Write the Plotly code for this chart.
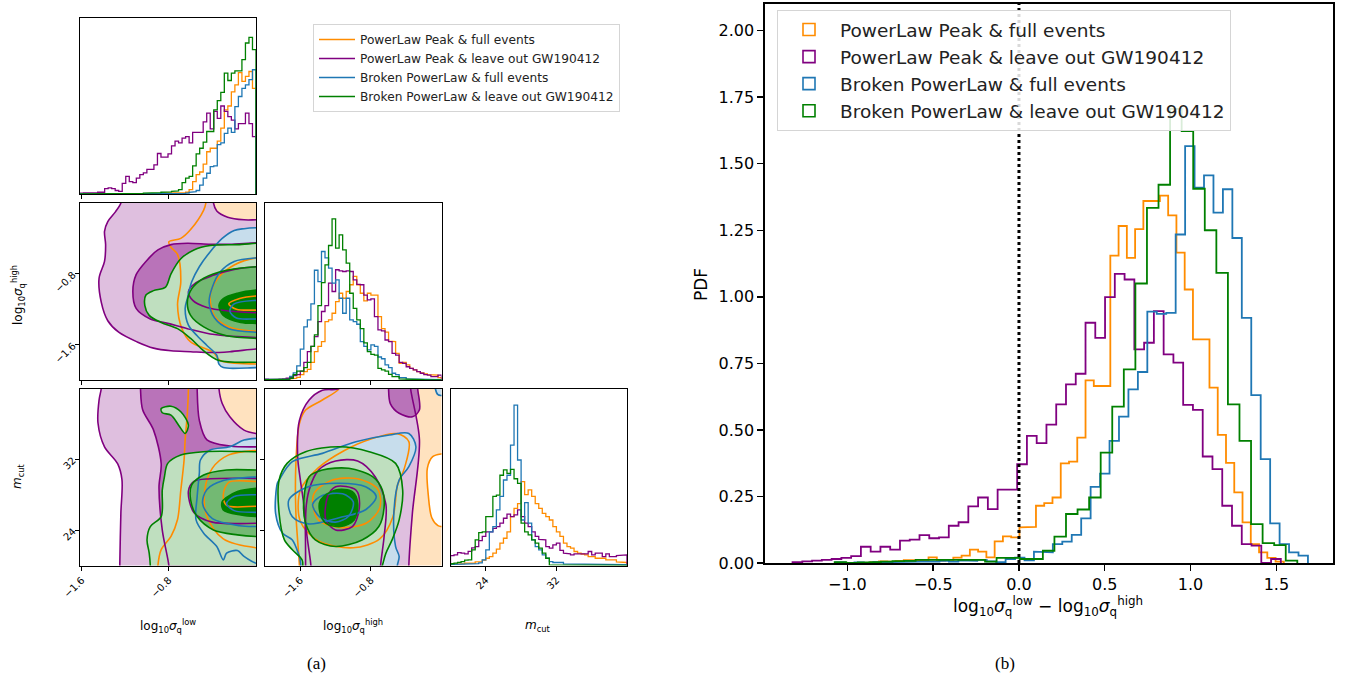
import plotly.graph_objects as go

W, H = 1345, 681

NAMES = ["PowerLaw Peak & full events", "PowerLaw Peak & leave out GW190412",
         "Broken PowerLaw & full events", "Broken PowerLaw & leave out GW190412"]
COLORS = ["#ff8c00", "#800080", "#1f77b4", "#008000"]

# ---------------- panel (b): log10 sigma_low - log10 sigma_high ----------------
DIFF_START = [-0.864, -1.3195, -1.069, -1.074]
DIFF_WIDTH = [0.04815, 0.05691, 0.05506, 0.0674]
diff_orange = [0.002, 0.006, 0.005, 0.008, 0.011, 0.011, 0.01, 0.021, 0.009, 0.012,
               0.02, 0.0275, 0.05, 0.0425, 0.021, 0.081, 0.1, 0.096, 0.134, 0.136,
               0.215, 0.225, 0.246, 0.374, 0.381, 0.471, 0.686, 0.665, 0.665, 1.155,
               1.266, 1.146, 1.254, 1.36, 1.36, 1.38, 1.306, 1.166, 1.0275, 0.84,
               0.84, 0.659, 0.481, 0.376, 0.265, 0.1525, 0.071, 0.04, 0.019, 0.005]
diff_purple = [0.003, 0.006, 0.009, 0.012, 0.015, 0.019, 0.026, 0.061, 0.043, 0.061,
               0.05, 0.084, 0.088, 0.105, 0.093, 0.096, 0.14, 0.153, 0.2125, 0.246,
               0.2025, 0.276, 0.276, 0.371, 0.4775, 0.45, 0.52, 0.596, 0.671, 0.711,
               0.9025, 0.846, 0.999, 1.086, 1.065, 0.8025, 0.8275, 0.946, 0.784, 0.7525,
               0.594, 0.575, 0.40, 0.3525, 0.215, 0.14, 0.071, 0.065, 0.0, 0.015]
diff_blue = [0.002, 0.0, 0.002, 0.0, 0.003, 0.003, 0.004, 0.005, 0.005, 0.006,
             0.005, 0.008, 0.005, 0.01, 0.008, 0.012, 0.006, 0.003, 0.015, 0.02,
             0.01, 0.0425, 0.04, 0.071, 0.08, 0.106, 0.1675, 0.286, 0.336, 0.459,
             0.55, 0.6525, 0.7175, 0.944, 0.936, 0.94, 1.234, 1.566, 1.41, 1.456,
             1.316, 1.404, 1.221, 0.921, 0.631, 0.39, 0.149, 0.071, 0.04, 0.0275]
diff_green = [0.003, 0.0, 0.002, 0.003, 0.005, 0.007, 0.008, 0.012, 0.012, 0.01,
              0.012, 0.01, 0.012, 0.005, 0.019, 0.019, 0.015, 0.015, 0.046, 0.099,
              0.184, 0.201, 0.246, 0.415, 0.5875, 0.7275, 1.05, 1.334, 1.421, 1.706,
              1.6225, 1.406, 1.25, 1.09, 0.596, 0.459, 0.146, 0.075, 0.0675, 0.009]
DIFF_RANGE = [-1.48, 1.83]
PDF_RANGE = [0.0, 2.1]
DIFF_TICKS = [-1.0, -0.5, 0.0, 0.5, 1.0, 1.5]
DIFF_TICK_TEXT = ["−1.0", "−0.5", "0.0", "0.5", "1.0", "1.5"]
PDF_TICKS = [0.0, 0.25, 0.5, 0.75, 1.0, 1.25, 1.5, 1.75, 2.0]
PDF_TICK_TEXT = ["0.00", "0.25", "0.50", "0.75", "1.00", "1.25", "1.50", "1.75", "2.00"]

# ---------------- panel (a): corner plot 1-D histograms (relative heights) ----------------
LOW_RANGE = [-1.615, 0.0]
HIGH_RANGE = [-2.0, 0.0]
MCUT_RANGE = [20.0, 40.0]
N_BINS = 50
low_orange = [0, 0, 0, 0, 0, 0, 0, 0, 0, 0, 0, 0, 0, 0, 0, 0, 0, 0, 0, 0,
              0.003, 0.003, 0.004, 0.004, 0.005, 0.006, 0.006, 0.007, 0.008, 0.008,
              0.01, 0.025, 0.07, 0.11, 0.125, 0.17, 0.24, 0.26, 0.26, 0.30,
              0.374, 0.478, 0.5, 0.58, 0.62, 0.69, 0.64, 0.668, 0.696, 0.6]
low_purple = [0.005, 0.006, 0.006, 0.005, 0.006, 0.01, 0.01, 0.03, 0.035, 0.03,
              0.02, 0.015, 0.06, 0.1, 0.07, 0.065, 0.09, 0.11, 0.12, 0.14,
              0.14, 0.165, 0.23, 0.21, 0.21, 0.228, 0.273, 0.30, 0.29, 0.317,
              0.326, 0.29, 0.35, 0.35, 0.35, 0.41, 0.46, 0.37, 0.47, 0.43,
              0.5, 0.47, 0.44, 0.42, 0.37, 0.40, 0.40, 0.46, 0.40, 0.326]
low_blue = [0, 0, 0, 0, 0, 0, 0, 0, 0, 0, 0, 0, 0, 0, 0, 0, 0, 0, 0, 0,
            0, 0, 0, 0, 0, 0.002, 0.002, 0.003, 0.003, 0.004,
            0.005, 0.01, 0.013, 0.02, 0.05, 0.09, 0.118, 0.155, 0.16, 0.28,
            0.29, 0.345, 0.374, 0.35, 0.497, 0.554, 0.60, 0.62, 0.65, 0.706]
low_green = [0, 0, 0, 0, 0, 0, 0, 0, 0, 0, 0, 0.003, 0.004, 0.004, 0.004, 0.004, 0.004, 0.004,
             0.005, 0.005, 0.006, 0.008, 0.008, 0.01, 0.01, 0.012, 0.015, 0.018,
             0.025, 0.065, 0.09, 0.1, 0.16, 0.228, 0.26, 0.295, 0.355, 0.355,
             0.478, 0.53, 0.577, 0.687, 0.645, 0.687, 0.70, 0.70, 0.763, 0.858, 0.89, 0.82]

high_orange = [0.001, 0.001, 0.002, 0.002, 0.003, 0.003, 0.004, 0.006, 0.01, 0.015,
               0.03, 0.047, 0.06, 0.1, 0.16, 0.19, 0.217, 0.33, 0.34, 0.377,
               0.443, 0.49, 0.462, 0.5, 0.538, 0.585, 0.538, 0.49, 0.447, 0.49,
               0.48, 0.48, 0.358, 0.29, 0.27, 0.22, 0.217, 0.15, 0.094, 0.1,
               0.085, 0.066, 0.057, 0.047, 0.04, 0.035, 0.03, 0.028, 0.028, 0.013]
high_purple = [0.005, 0.004, 0.003, 0.004, 0.005, 0.006, 0.01, 0.015, 0.025, 0.03,
               0.05, 0.1, 0.16, 0.19, 0.245, 0.33, 0.387, 0.42, 0.547, 0.5,
               0.623, 0.617, 0.613, 0.617, 0.613, 0.566, 0.54, 0.538, 0.48, 0.453,
               0.458, 0.358, 0.283, 0.277, 0.226, 0.217, 0.15, 0.14, 0.10, 0.094,
               0.075, 0.066, 0.057, 0.047, 0.038, 0.03, 0.028, 0.019, 0.019, 0.028]
high_blue = [0.003, 0.003, 0.003, 0.003, 0.003, 0.003, 0.003, 0.02, 0.04, 0.08,
             0.175, 0.30, 0.34, 0.43, 0.62, 0.556, 0.726, 0.69, 0.632, 0.547,
             0.566, 0.462, 0.377, 0.462, 0.34, 0.33, 0.315, 0.217, 0.19, 0.17,
             0.198, 0.19, 0.13, 0.12, 0.085, 0.07, 0.038, 0.03, 0.013, 0.013,
             0.006, 0.005, 0.005, 0.004, 0.004, 0.003, 0.003, 0.002, 0.002, 0.002]
high_green = [0.002, 0.002, 0.003, 0.003, 0.004, 0.004, 0.005, 0.01, 0.03, 0.05,
              0.05, 0.07, 0.10, 0.19, 0.255, 0.42, 0.55, 0.65, 0.76, 0.91,
              0.745, 0.82, 0.735, 0.66, 0.49, 0.405, 0.34, 0.29, 0.21, 0.16,
              0.145, 0.14, 0.066, 0.057, 0.05, 0.032, 0.019, 0.019, 0.006, 0.004,
              0.003, 0.003, 0.002, 0.002, 0.002, 0.001, 0.001, 0.001, 0.001, 0.001]

mcut_orange = [0.006, 0.008, 0.008, 0.01, 0.013, 0.013, 0.013, 0.02, 0.022, 0.03,
               0.041, 0.05, 0.07, 0.092, 0.126, 0.154, 0.19, 0.276, 0.323, 0.35,
               0.474, 0.4, 0.427, 0.39, 0.35, 0.323, 0.295, 0.276, 0.257, 0.22,
               0.19, 0.164, 0.126, 0.107, 0.098, 0.079, 0.07, 0.065, 0.06, 0.05,
               0.05, 0.041, 0.041, 0.041, 0.032, 0.032, 0.032, 0.02, 0.017, 0.017]
mcut_purple = [0.056, 0.06, 0.073, 0.07, 0.066, 0.08, 0.1, 0.107, 0.14, 0.164,
               0.19, 0.19, 0.21, 0.22, 0.239, 0.267, 0.29, 0.276, 0.286, 0.314,
               0.276, 0.239, 0.22, 0.19, 0.164, 0.148, 0.145, 0.107, 0.098, 0.117,
               0.126, 0.085, 0.07, 0.066, 0.06, 0.066, 0.066, 0.066, 0.066, 0.079,
               0.06, 0.07, 0.07, 0.05, 0.066, 0.05, 0.05, 0.056, 0.056, 0.06]
mcut_blue = [0.006, 0.006, 0.006, 0.006, 0.006, 0.006, 0.008, 0.01, 0.015, 0.032,
             0.088, 0.19, 0.22, 0.314, 0.39, 0.483, 0.51, 0.68, 0.906, 0.596,
             0.257, 0.355, 0.239, 0.145, 0.107, 0.088, 0.06, 0.041, 0.022, 0.017,
             0.017, 0.017, 0.009, 0.009, 0.009, 0.009, 0.005, 0.005, 0.005, 0.005,
             0.005, 0.005, 0.005, 0.005, 0.005, 0.005, 0.005, 0.005, 0.005, 0.005]
mcut_green = [0.01, 0.013, 0.018, 0.022, 0.03, 0.032, 0.088, 0.145, 0.186, 0.19,
              0.276, 0.276, 0.39, 0.398, 0.51, 0.54, 0.52, 0.543, 0.49, 0.464,
              0.239, 0.19, 0.173, 0.145, 0.126, 0.098, 0.07, 0.041, 0.004, 0.003,
              0.003, 0.002, 0.002, 0.002, 0.002, 0.002, 0.001, 0.001, 0.001, 0.001,
              0.001, 0.001, 0.001, 0.001, 0.001, 0.001, 0.001, 0.001, 0.001, 0.001]

SIGMA_TICKS = [-1.6, -0.8]
SIGMA_TICK_TEXT = ["−1.6", "−0.8"]
MCUT_TICKS = [24, 32]
MCUT_TICK_TEXT = ["24", "32"]

# ---------------- panel (a): 2-D credible contours (level 0 = outer, 1 = middle, 2 = inner, -1 = hole) ----------------
# sigma_low (x) vs sigma_high (y)
A_orange = [
    (0, [(-0.46, 0.05), (-0.46, 0), (-0.48, -0.08), (-0.6, -0.3), (-0.69, -0.4), (-0.8, -0.44), (-0.78, -0.5),
         (-0.72, -0.58), (-0.69, -0.89), (-0.72, -1.15), (-0.68, -1.42), (-0.6, -1.57), (-0.39, -1.69),
         (-0.33, -1.78), (0, -1.82), (0.1, -1.82), (0.1, 0.05)]),
    (1, [(0.1, -0.62), (0, -0.62), (-0.2, -0.7), (-0.35, -0.85), (-0.42, -1.05), (-0.38, -1.28), (-0.25, -1.4),
         (0, -1.45), (0.1, -1.45)]),
    (2, [(0.1, -1.05), (0, -1.05), (-0.15, -1.08), (-0.25, -1.14), (-0.18, -1.2), (0, -1.21), (0.1, -1.21)]),
]
A_purple = [
    (0, [(-1.24, 0.05), (-1.24, 0), (-1.29, -0.1), (-1.36, -0.21), (-1.39, -0.32), (-1.38, -0.47), (-1.39, -0.66),
         (-1.44, -0.85), (-1.42, -1.12), (-1.36, -1.33), (-1.26, -1.46), (-1.09, -1.57), (-0.94, -1.64),
         (-0.78, -1.67), (-0.6, -1.68), (-0.42, -1.69), (-0.24, -1.68), (0, -1.65), (0.1, -1.65), (0.1, -0.19),
         (0, -0.19), (-0.11, -0.19), (-0.26, -0.16), (-0.36, -0.09), (-0.39, 0), (-0.39, 0.05)]),
    (1, [(0.1, -0.45), (0, -0.45), (-0.24, -0.466), (-0.42, -0.466), (-0.63, -0.455), (-0.78, -0.47), (-0.9, -0.53),
         (-1.01, -0.66), (-1.1, -0.81), (-1.13, -1.0), (-1.1, -1.19), (-0.97, -1.31), (-0.81, -1.36),
         (-0.63, -1.42), (-0.42, -1.48), (-0.17, -1.51), (0, -1.52), (0.1, -1.52)]),
    (2, [(0.1, -0.72), (0, -0.72), (-0.2, -0.75), (-0.4, -0.82), (-0.55, -0.9), (-0.62, -1.0), (-0.58, -1.1),
         (-0.45, -1.18), (-0.25, -1.22), (0, -1.24), (0.1, -1.24)]),
]
A_blue = [
    (0, [(0.1, -0.28), (0, -0.28), (-0.11, -0.29), (-0.2, -0.31), (-0.31, -0.4), (-0.42, -0.55), (-0.52, -0.72),
         (-0.59, -0.89), (-0.63, -1.08), (-0.65, -1.19), (-0.62, -1.38), (-0.54, -1.5), (-0.45, -1.61),
         (-0.36, -1.72), (-0.34, -1.82), (-0.3, -1.86), (0, -1.86), (0.1, -1.86)]),
    (1, [(0.1, -0.62), (0, -0.62), (-0.2, -0.66), (-0.33, -0.78), (-0.4, -0.95), (-0.43, -1.12), (-0.38, -1.3),
         (-0.25, -1.42), (0, -1.46), (0.1, -1.46)]),
    (2, [(0.1, -1.1), (0, -1.1), (-0.2, -1.14), (-0.24, -1.22), (-0.18, -1.3), (0, -1.31), (0.1, -1.31)]),
]
A_green = [
    (0, [(0.1, -0.45), (0, -0.455), (-0.17, -0.47), (-0.42, -0.48), (-0.57, -0.53), (-0.69, -0.63), (-0.78, -0.8),
         (-0.83, -0.95), (-0.94, -0.99), (-1.01, -1.04), (-1.02, -1.16), (-0.98, -1.27), (-0.87, -1.35),
         (-0.72, -1.42), (-0.6, -1.53), (-0.48, -1.67), (-0.34, -1.78), (0, -1.8), (0.1, -1.8)]),
    (1, [(0.1, -0.72), (0, -0.72), (-0.27, -0.76), (-0.48, -0.85), (-0.59, -0.97), (-0.63, -1.12), (-0.6, -1.27),
         (-0.48, -1.4), (-0.27, -1.5), (0, -1.53), (0.1, -1.53)]),
    (2, [(0.1, -0.98), (0, -0.985), (-0.17, -1.02), (-0.3, -1.08), (-0.34, -1.16), (-0.3, -1.27), (-0.14, -1.35),
         (0, -1.36), (0.1, -1.36)]),
]
# sigma_low (x) vs m_cut (y)
B_orange = [
    (0, [(-0.62, 41), (-0.62, 40), (-0.63, 37.2), (-0.65, 34.2), (-0.66, 31.9), (-0.69, 28.5), (-0.72, 25.2),
         (-0.78, 23.3), (-0.87, 21.8), (-0.9, 20), (-0.9, 19), (0.1, 19), (0.1, 41)]),
    (1, [(0.1, 33.0), (0, 33.0), (-0.25, 32.5), (-0.4, 31.0), (-0.47, 28.5), (-0.45, 25.5), (-0.3, 23.0),
         (0, 22.0), (0.1, 22.0)]),
    (2, [(0.1, 29.5), (0, 29.5), (-0.25, 29.4), (-0.3, 28.0), (-0.27, 26.8), (0, 26.7), (0.1, 26.7)]),
]
B_purple = [
    (0, [(-1.42, 41), (-1.42, 40), (-1.44, 38.7), (-1.45, 36.1), (-1.39, 33.4), (-1.27, 31.5), (-1.23, 29.7),
         (-1.24, 25.9), (-1.25, 20), (-1.25, 19), (0.1, 19), (0.1, 34.9), (0, 34.92), (-0.11, 35.3),
         (-0.24, 36.8), (-0.31, 38.3), (-0.34, 40), (-0.34, 41)]),
    (1, [(-1.06, 41), (-1.06, 40), (-1.04, 37.6), (-0.94, 35.3), (-0.87, 31.5), (-0.89, 28.9), (-0.86, 24.0),
         (-0.8, 20), (-0.8, 19), (0.1, 19), (0.1, 33.4), (0, 33.4), (-0.24, 33.5), (-0.45, 34.2),
         (-0.52, 36.4), (-0.54, 40), (-0.54, 41)]),
    (2, [(0.1, 29.85), (0, 29.85), (-0.42, 29.8), (-0.57, 29.5), (-0.62, 28.4), (-0.57, 26.0), (-0.4, 24.9),
         (0, 24.77), (0.1, 24.77)]),
]
B_blue = [
    (0, [(0.1, 34.36), (0, 34.36), (-0.11, 34.17), (-0.24, 33.42), (-0.42, 33.05), (-0.51, 31.92), (-0.52, 30.41),
         (-0.54, 27.78), (-0.55, 25.15), (-0.48, 23.65), (-0.36, 22.14), (-0.3, 20.64), (-0.27, 21.39),
         (-0.17, 21.69), (-0.11, 21.02), (0, 20.26), (0.1, 20.26)]),
    (1, [(0.1, 30.0), (0, 30.0), (-0.3, 29.6), (-0.45, 28.6), (-0.49, 27.0), (-0.4, 25.3), (-0.15, 24.5),
         (0, 24.4), (0.1, 24.4)]),
    (2, [(0.1, 28.0), (0, 28.0), (-0.2, 27.8), (-0.27, 27.0), (-0.2, 26.2), (0, 26.0), (0.1, 26.0)]),
]
B_green = [
    (0, [(0.1, 32.86), (0, 32.86), (-0.48, 32.86), (-0.69, 32.48), (-0.81, 31.54), (-0.84, 30.04), (-0.86, 28.53),
         (-0.87, 25.53), (-0.97, 24.4), (-1.0, 22.9), (-0.98, 21.4), (-0.97, 20), (-0.97, 19), (0.1, 19)]),
    (0, [(-0.87, 37.74), (-0.78, 38.0), (-0.69, 37.37), (-0.62, 35.86), (-0.65, 34.92), (-0.71, 35.86),
         (-0.78, 36.99), (-0.86, 37.26)]),
    (1, [(0.1, 30.79), (0, 30.79), (-0.27, 30.79), (-0.48, 30.23), (-0.59, 29.1), (-0.6, 27.41), (-0.54, 25.53),
         (-0.39, 24.02), (-0.17, 23.46), (0, 23.27), (0.1, 23.27)]),
    (2, [(0.1, 28.72), (0, 28.72), (-0.17, 28.35), (-0.31, 27.22), (-0.3, 26.28), (-0.14, 25.71), (0, 25.53),
         (0.1, 25.53)]),
]
# sigma_high (x) vs m_cut (y)
C_orange = [
    (0, [(-1.16, 41), (-1.16, 40), (-1.35, 38.7), (-1.54, 37.56), (-1.61, 36.05), (-1.65, 31.54), (-1.65, 25.9),
         (-1.61, 20), (-1.61, 19), (0.1, 19), (0.1, 41)]),
    (-1, [(0.1, 32.6), (0, 32.6), (-0.1, 32.3), (-0.16, 31.0), (-0.15, 28.0), (-0.11, 25.4), (-0.04, 24.5),
          (0, 24.4), (0.1, 24.4)]),
    (1, [(-1.6, 28.5), (-1.4, 31.0), (-1.1, 33.0), (-0.8, 34.3), (-0.5, 34.9), (-0.37, 34.0), (-0.42, 31.0),
         (-0.5, 29.0), (-0.55, 25.5), (-0.7, 23.0), (-1.0, 22.0), (-1.4, 22.8), (-1.6, 25.0)]),
    (2, [(-1.45, 28.0), (-1.25, 29.6), (-0.95, 29.8), (-0.72, 28.6), (-0.7, 26.5), (-0.85, 24.8), (-1.15, 24.3),
         (-1.4, 25.2)]),
]
C_purple = [
    (0, [(-1.16, 41), (-1.16, 40), (-1.35, 39.8), (-1.5, 38.7), (-1.61, 36.4), (-1.63, 32.3), (-1.6, 29.7),
         (-1.55, 25.9), (-1.54, 20), (-1.54, 19), (-0.37, 19), (-0.37, 20), (-0.33, 25.9), (-0.25, 34.2),
         (-0.35, 40), (-0.35, 41)]),
    (1, [(-0.6, 41), (-0.6, 40), (-0.58, 38.3), (-0.48, 37.2), (-0.33, 36.8), (-0.25, 37.6), (-0.27, 40),
         (-0.27, 41)]),
    (1, [(-1.39, 30.8), (-1.2, 31.8), (-0.95, 31.8), (-0.75, 30.0), (-0.63, 26.9), (-0.65, 23.3), (-0.69, 20),
         (-0.69, 19), (-1.48, 19), (-1.48, 20), (-1.54, 25.15), (-1.5, 28.53)]),
    (2, [(-1.2, 28.91), (-0.97, 28.53), (-0.93, 26.65), (-1.01, 24.4), (-1.2, 24.02), (-1.31, 25.15),
         (-1.29, 27.78)]),
]
C_blue = [
    (0, [(-1.84, 29.66), (-1.69, 31.73), (-1.35, 32.67), (-0.97, 33.98), (-0.59, 34.74), (-0.37, 34.92),
         (-0.29, 33.42), (-0.37, 31.17), (-0.48, 29.66), (-0.54, 25.9), (-0.52, 22.14), (-0.48, 21.02),
         (-0.5, 20), (-0.5, 19), (-1.55, 19), (-1.61, 21.02), (-1.69, 22.89), (-1.8, 23.65), (-1.88, 25.9),
         (-1.86, 29.29)]),
    (0, [(-0.07, 41), (-0.07, 40), (-0.04, 39.3), (0, 39.2), (0.1, 39.2), (0.1, 41)]),
    (1, [(-1.73, 27.4), (-1.51, 28.9), (-1.16, 29.3), (-0.86, 28.9), (-0.74, 27.8), (-0.86, 26.3), (-1.16, 25.4),
         (-1.51, 24.7), (-1.69, 25.5)]),
    (2, [(-1.46, 26.9), (-1.35, 27.9), (-1.12, 28.1), (-1.0, 27.2), (-1.05, 25.6), (-1.2, 24.9), (-1.38, 25.5)]),
]
C_green = [
    (0, [(-1.75, 31.54), (-1.54, 32.86), (-1.16, 33.42), (-0.82, 32.86), (-0.52, 31.54), (-0.44, 28.53),
         (-0.48, 25.15), (-0.56, 22.89), (-0.63, 21.39), (-0.67, 20), (-0.7, 19), (-1.55, 19), (-1.58, 20.64),
         (-1.69, 21.77), (-1.78, 22.89), (-1.84, 25.9), (-1.84, 29.66)]),
    (1, [(-1.5, 30.04), (-1.35, 30.79), (-1.05, 30.98), (-0.78, 30.04), (-0.67, 28.53), (-0.65, 26.65),
         (-0.71, 24.4), (-0.9, 22.89), (-1.2, 22.14), (-1.43, 22.89), (-1.54, 24.77), (-1.56, 27.41)]),
    (2, [(-1.37, 27.41), (-1.2, 28.53), (-1.01, 28.35), (-0.95, 27.03), (-0.99, 25.15), (-1.14, 24.4),
         (-1.31, 24.77), (-1.38, 26.09)]),
]

# ============================ helpers ============================
FONT = "DejaVu Sans"


def edges_from(start, width, n):
    return [start + i * width for i in range(n + 1)]


def step_path(edges, vals):
    xs, ys = [edges[0]], [0.0]
    for i, v in enumerate(vals):
        xs += [edges[i], edges[i + 1]]
        ys += [v, v]
    xs.append(edges[-1])
    ys.append(0.0)
    return xs, ys


def blend(hexc, a):
    r, g, b = int(hexc[1:3], 16), int(hexc[3:5], 16), int(hexc[5:7], 16)
    return "rgb(%d,%d,%d)" % (round(255 - (255 - r) * a), round(255 - (255 - g) * a), round(255 - (255 - b) * a))


def xdom(a, b):
    return [a / W, b / W]


def ydom(top, bottom):
    return [1 - bottom / H, 1 - top / H]


fig = go.Figure()

# ---------------- panel (b) ----------------
diff_vals = [diff_orange, diff_purple, diff_blue, diff_green]
for i in range(4):
    e = edges_from(DIFF_START[i], DIFF_WIDTH[i], len(diff_vals[i]))
    xs, ys = step_path(e, diff_vals[i])
    fig.add_trace(go.Scatter(x=xs, y=ys, mode="lines", line=dict(color=COLORS[i], width=1.8),
                             xaxis="x", yaxis="y", showlegend=False, hoverinfo="skip"))
for i in range(4):
    fig.add_trace(go.Bar(x=[None], y=[None], name=NAMES[i], xaxis="x", yaxis="y",
                         marker=dict(color="rgba(0,0,0,0)", line=dict(color=COLORS[i], width=1.6)),
                         legend="legend2", legendgroup="g%d" % i, showlegend=True))
fig.add_shape(type="line", x0=0, x1=0, y0=PDF_RANGE[0], y1=PDF_RANGE[1], xref="x", yref="y",
              line=dict(color="black", width=3, dash="dot"))

# ---------------- panel (a) histograms ----------------
hist_sets = [
    ("x2", "y2", LOW_RANGE, [low_orange, low_purple, low_blue, low_green]),
    ("x4", "y4", HIGH_RANGE, [high_orange, high_purple, high_blue, high_green]),
    ("x7", "y7", MCUT_RANGE, [mcut_orange, mcut_purple, mcut_blue, mcut_green]),
]
for k, (xa, ya, rng, vals) in enumerate(hist_sets):
    e = edges_from(rng[0], (rng[1] - rng[0]) / N_BINS, N_BINS)
    for i in range(4):
        xs, ys = step_path(e, vals[i])
        fig.add_trace(go.Scatter(x=xs, y=ys, mode="lines", line=dict(color=COLORS[i], width=1.3),
                                 xaxis=xa, yaxis=ya, name=NAMES[i], legend="legend",
                                 showlegend=(k == 0), hoverinfo="skip"))

# ---------------- panel (a) contours ----------------
LEVEL_SHADE = {-1: 0.0, 0: 0.25, 1: 0.55, 2: 0.85}
contour_sets = [
    ("x3", "y3", [A_orange, A_purple, A_blue, A_green]),
    ("x5", "y5", [B_orange, B_purple, B_blue, B_green]),
    ("x6", "y6", [C_orange, C_purple, C_blue, C_green]),
]
for xa, ya, series in contour_sets:
    for i, polys in enumerate(series):
        for lvl, poly in polys:
            shade = 1.0 if (lvl == 2 and i == 3) else LEVEL_SHADE[lvl]
            xs = [p[0] for p in poly] + [poly[0][0]]
            ys = [p[1] for p in poly] + [poly[0][1]]
            fig.add_trace(go.Scatter(x=xs, y=ys, mode="lines", fill="toself",
                                     fillcolor=blend(COLORS[i], shade),
                                     line=dict(width=0, shape="spline", smoothing=0.9, color=COLORS[i]),
                                     xaxis=xa, yaxis=ya, showlegend=False, hoverinfo="skip"))
    for i, polys in enumerate(series):
        for lvl, poly in polys:
            xs = [p[0] for p in poly] + [poly[0][0]]
            ys = [p[1] for p in poly] + [poly[0][1]]
            fig.add_trace(go.Scatter(x=xs, y=ys, mode="lines",
                                     line=dict(width=1.6, shape="spline", smoothing=0.9, color=COLORS[i]),
                                     xaxis=xa, yaxis=ya, showlegend=False, hoverinfo="skip"))

# ---------------- axes ----------------
def corner_axis(dom, anchor, rng, tickvals=None, ticktext=None, labels=False, ticks=True):
    d = dict(domain=dom, anchor=anchor, range=rng, showgrid=False, zeroline=False,
             showline=True, mirror=True, linecolor="black", linewidth=1,
             ticks="outside" if ticks else "", ticklen=4, tickwidth=1, tickcolor="black",
             tickangle=-45, showticklabels=labels, automargin=False,
             tickfont=dict(family=FONT, size=10, color="black"))
    if tickvals is not None:
        d["tickvals"] = tickvals
        d["ticktext"] = ticktext
    return d


col0, col1, col2 = xdom(80, 256), xdom(265, 441.5), xdom(450.5, 627)
row0, row1, row2 = ydom(18, 194), ydom(203, 380), ydom(388.5, 565.5)

layout_axes = dict(
    xaxis=dict(domain=xdom(765, 1333), anchor="y", range=DIFF_RANGE, showgrid=False, zeroline=False,
               showline=True, mirror=True, linecolor="black", linewidth=1.6,
               ticks="outside", ticklen=6, tickwidth=1.4, tickcolor="black", automargin=False,
               tickvals=DIFF_TICKS, ticktext=DIFF_TICK_TEXT,
               tickfont=dict(family=FONT, size=16, color="black")),
    yaxis=dict(domain=ydom(4, 563), anchor="x", range=PDF_RANGE, showgrid=False, zeroline=False,
               showline=True, mirror=True, linecolor="black", linewidth=1.6,
               ticks="outside", ticklen=6, tickwidth=1.4, tickcolor="black", automargin=False,
               tickvals=PDF_TICKS, ticktext=PDF_TICK_TEXT,
               tickfont=dict(family=FONT, size=16, color="black")),
    xaxis2=corner_axis(col0, "y2", LOW_RANGE, SIGMA_TICKS, SIGMA_TICK_TEXT),
    yaxis2=corner_axis(row0, "x2", [0, 1], ticks=False),
    xaxis3=corner_axis(col0, "y3", LOW_RANGE, SIGMA_TICKS, SIGMA_TICK_TEXT),
    yaxis3=corner_axis(row1, "x3", HIGH_RANGE, SIGMA_TICKS, SIGMA_TICK_TEXT, labels=True),
    xaxis4=corner_axis(col1, "y4", HIGH_RANGE, SIGMA_TICKS, SIGMA_TICK_TEXT),
    yaxis4=corner_axis(row1, "x4", [0, 1], ticks=False),
    xaxis5=corner_axis(col0, "y5", LOW_RANGE, SIGMA_TICKS, SIGMA_TICK_TEXT, labels=True),
    yaxis5=corner_axis(row2, "x5", MCUT_RANGE, MCUT_TICKS, MCUT_TICK_TEXT, labels=True),
    xaxis6=corner_axis(col1, "y6", HIGH_RANGE, SIGMA_TICKS, SIGMA_TICK_TEXT, labels=True),
    yaxis6=corner_axis(row2, "x6", MCUT_RANGE, MCUT_TICKS, MCUT_TICK_TEXT),
    xaxis7=corner_axis(col2, "y7", MCUT_RANGE, MCUT_TICKS, MCUT_TICK_TEXT, labels=True),
    yaxis7=corner_axis(row2, "x7", [0, 1], ticks=False),
)

LOW_LABEL = "log<sub>10</sub><i>σ</i><sub>q</sub><sup>low</sup>"
HIGH_LABEL = "log<sub>10</sub><i>σ</i><sub>q</sub><sup>high</sup>"
MCUT_LABEL = "<i>m</i><sub>cut</sub>"


def ann(text, x, y, size, angle=0, family=FONT):
    return dict(text=text, x=x / W, y=1 - y / H, xref="paper", yref="paper", showarrow=False,
                xanchor="center", yanchor="middle", textangle=angle,
                font=dict(family=family, size=size, color="black"))


annotations = [
    ann(LOW_LABEL, 168, 626, 12),
    ann(HIGH_LABEL, 353, 626, 12),
    ann(MCUT_LABEL, 538, 626, 12),
    ann(HIGH_LABEL, 18, 295, 12, -90),
    ann(MCUT_LABEL, 18, 476, 12, -90),
    ann("(a)", 316, 663, 17, family="Liberation Serif"),
    ann("(b)", 1005, 663, 17, family="Liberation Serif"),
    ann(LOW_LABEL + " − " + HIGH_LABEL, 1048, 606, 17),
    ann("PDF", 701, 285, 17, -90),
]

fig.update_layout(
    width=W, height=H, margin=dict(l=0, r=0, t=0, b=0, pad=0), autosize=False,
    paper_bgcolor="white", plot_bgcolor="white",
    font=dict(family=FONT, color="black"),
    showlegend=True,
    legend=dict(x=313 / W, y=1 - 24 / H, xanchor="left", yanchor="top",
                bgcolor="rgba(255,255,255,0.9)", bordercolor="#d5d5d5", borderwidth=1,
                font=dict(family=FONT, size=12.2, color="#222222"), tracegroupgap=0, itemwidth=36),
    legend2=dict(x=777 / W, y=1 - 10 / H, xanchor="left", yanchor="top",
                 bgcolor="rgba(255,255,255,0.85)", bordercolor="#d5d5d5", borderwidth=1,
                 font=dict(family=FONT, size=18.5, color="#222222"), tracegroupgap=0, itemwidth=52,
                 traceorder="grouped"),
    annotations=annotations,
    **layout_axes,
)

fig.write_html("out.html", config={"displayModeBar": False, "staticPlot": True},
               post_script="document.body.style.margin='0';document.body.style.padding='0';"
                           "document.body.style.overflow='hidden';")
